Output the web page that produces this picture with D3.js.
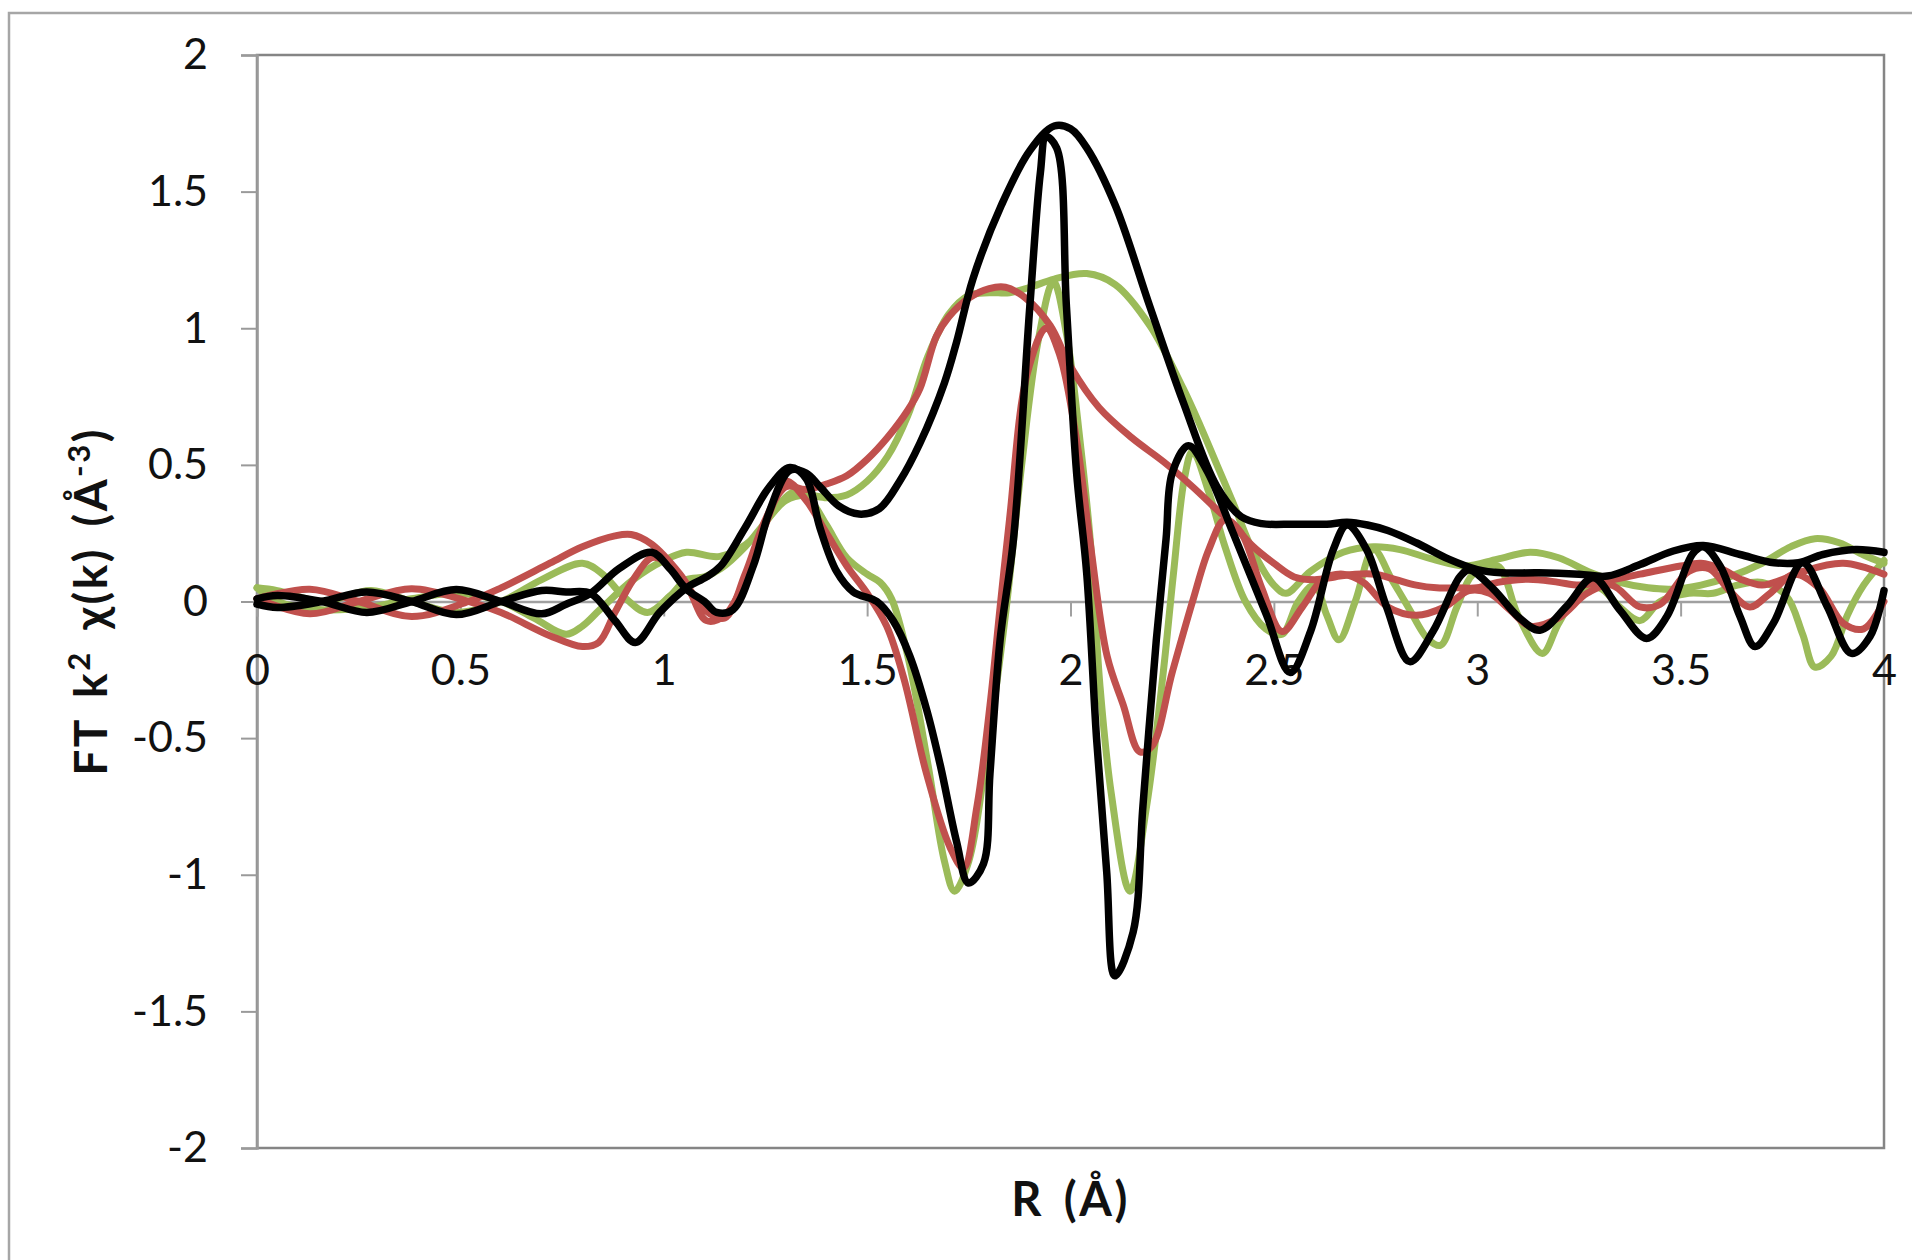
<!DOCTYPE html>
<html>
<head>
<meta charset="utf-8">
<script src="https://cdnjs.cloudflare.com/ajax/libs/d3/7.8.5/d3.min.js"></script>
<style>
  body { margin: 0; background: #fff; }
  text { font-family: Lato, "Open Sans", sans-serif; }
</style>
</head>
<body>
<div id="chart"></div>
<script>
// tick values
var xTicks = [0, 0.5, 1, 1.5, 2, 2.5, 3, 3.5, 4];
var yTicks = [-2, -1.5, -1, -0.5, 0, 0.5, 1, 1.5, 2];

// series, [R (Å), FT value]
var greenMag = [[0,0.05],[0.05,0.04],[0.16,0.0],[0.28,0.04],[0.38,0.0],[0.49,-0.04],[0.6,0.0],[0.7,0.08],[0.8,0.14],[0.85,0.1],[0.9,0.02],[0.96,-0.04],[1.015,0.02],[1.056,0.08],[1.1,0.09],[1.14,0.12],[1.2,0.2],[1.25,0.29],[1.3,0.37],[1.35,0.39],[1.4,0.38],[1.45,0.39],[1.5,0.44],[1.55,0.53],[1.6,0.68],[1.65,0.9],[1.7,1.05],[1.75,1.12],[1.8,1.13],[1.85,1.13],[1.9,1.15],[1.96,1.18],[2.04,1.2],[2.11,1.16],[2.195,1.01],[2.277,0.78],[2.32,0.64],[2.36,0.5],[2.4,0.36],[2.45,0.18],[2.5,0.06],[2.53,0.03],[2.59,0.11],[2.67,0.18],[2.745,0.2],[2.81,0.19],[2.89,0.155],[2.97,0.13],[3.05,0.155],[3.13,0.18],[3.2,0.16],[3.28,0.105],[3.35,0.07],[3.42,0.05],[3.48,0.045],[3.55,0.06],[3.62,0.09],[3.7,0.14],[3.77,0.2],[3.83,0.23],[3.89,0.215],[3.95,0.17],[4.0,0.14]];
var greenRe = [[0,0.05],[0.05,0.0],[0.16,-0.03],[0.28,-0.02],[0.38,0.01],[0.49,0.03],[0.6,0.0],[0.68,-0.06],[0.76,-0.12],[0.8,-0.09],[0.843,-0.03],[0.925,0.08],[1.0,0.15],[1.056,0.18],[1.138,0.165],[1.22,0.23],[1.27,0.33],[1.32,0.4],[1.36,0.37],[1.4,0.28],[1.45,0.16],[1.5,0.1],[1.532,0.07],[1.56,0.01],[1.6,-0.2],[1.65,-0.6],[1.69,-0.95],[1.715,-1.06],[1.75,-0.95],[1.79,-0.6],[1.84,-0.05],[1.88,0.5],[1.92,0.95],[1.958,1.17],[1.99,0.98],[2.024,0.58],[2.05,0.2],[2.072,-0.3],[2.1,-0.7],[2.146,-1.06],[2.187,-0.75],[2.228,-0.26],[2.253,0.1],[2.28,0.45],[2.3,0.55],[2.34,0.4],[2.38,0.2],[2.43,0.0],[2.48,-0.1],[2.52,-0.12],[2.56,0.0],[2.6,0.06],[2.63,-0.05],[2.66,-0.14],[2.7,0.0],[2.745,0.19],[2.79,0.08],[2.83,-0.02],[2.88,-0.14],[2.91,-0.16],[2.95,-0.02],[2.99,0.1],[3.05,0.13],[3.1,-0.05],[3.16,-0.19],[3.2,-0.08],[3.25,0.03],[3.3,0.05],[3.35,-0.02],[3.4,-0.07],[3.45,0.0],[3.52,0.03],[3.58,0.03],[3.64,0.06],[3.7,0.07],[3.76,0.02],[3.8,-0.12],[3.83,-0.24],[3.87,-0.2],[3.91,-0.05],[3.95,0.06],[4.0,0.15]];
var redMag = [[0,0.01],[0.13,0.045],[0.25,0.0],[0.38,-0.055],[0.52,0.0],[0.6,0.05],[0.72,0.14],[0.8,0.2],[0.88,0.24],[0.92,0.245],[0.97,0.21],[1.04,0.1],[1.1,-0.03],[1.15,-0.06],[1.2,0.1],[1.25,0.3],[1.3,0.42],[1.35,0.41],[1.4,0.43],[1.45,0.46],[1.5,0.52],[1.55,0.6],[1.6,0.7],[1.63,0.78],[1.67,0.97],[1.7,1.04],[1.75,1.11],[1.8,1.145],[1.84,1.15],[1.89,1.11],[1.95,1.01],[2.0,0.86],[2.07,0.71],[2.15,0.6],[2.23,0.51],[2.3,0.42],[2.35,0.35],[2.4,0.28],[2.45,0.2],[2.5,0.14],[2.55,0.09],[2.6,0.08],[2.65,0.09],[2.7,0.1],[2.75,0.1],[2.8,0.08],[2.85,0.06],[2.9,0.05],[2.95,0.05],[3.0,0.05],[3.05,0.07],[3.1,0.08],[3.15,0.08],[3.2,0.07],[3.25,0.06],[3.3,0.07],[3.4,0.1],[3.5,0.13],[3.55,0.14],[3.6,0.12],[3.65,0.08],[3.7,0.06],[3.75,0.08],[3.8,0.11],[3.9,0.14],[4.0,0.1]];
var redRe = [[0,0.01],[0.13,-0.045],[0.25,0.0],[0.38,0.047],[0.52,0.0],[0.6,-0.04],[0.72,-0.125],[0.8,-0.165],[0.84,-0.15],[0.88,-0.04],[0.925,0.08],[0.97,0.16],[1.0,0.15],[1.056,0.06],[1.105,-0.07],[1.15,-0.05],[1.2,0.08],[1.25,0.28],[1.3,0.44],[1.35,0.37],[1.4,0.25],[1.45,0.13],[1.5,0.03],[1.548,-0.09],[1.59,-0.28],[1.646,-0.63],[1.704,-0.9],[1.737,-0.975],[1.77,-0.75],[1.802,-0.38],[1.827,-0.02],[1.85,0.3],[1.893,0.83],[1.94,1.0],[1.974,0.9],[2.015,0.59],[2.048,0.22],[2.09,-0.2],[2.13,-0.38],[2.17,-0.55],[2.2,-0.53],[2.25,-0.26],[2.3,0.0],[2.34,0.19],[2.38,0.3],[2.42,0.25],[2.47,0.05],[2.52,-0.11],[2.57,-0.02],[2.62,0.08],[2.67,0.1],[2.72,0.07],[2.78,-0.02],[2.85,-0.05],[2.92,-0.02],[2.98,0.04],[3.03,0.03],[3.08,-0.03],[3.13,-0.09],[3.2,-0.06],[3.27,0.03],[3.33,0.06],[3.4,-0.02],[3.45,-0.01],[3.52,0.11],[3.57,0.12],[3.62,0.04],[3.67,-0.02],[3.72,0.03],[3.78,0.1],[3.84,0.05],[3.9,-0.08],[3.95,-0.1],[4.0,0.0]];
var blackMag = [[0,0.01],[0.05,0.022],[0.16,0.0],[0.27,-0.04],[0.38,0.0],[0.49,0.044],[0.6,0.0],[0.7,-0.045],[0.76,-0.01],[0.82,0.03],[0.89,0.12],[0.97,0.18],[1.015,0.12],[1.056,0.045],[1.1,0.0],[1.13,-0.04],[1.17,-0.03],[1.22,0.13],[1.26,0.33],[1.31,0.48],[1.35,0.47],[1.384,0.42],[1.43,0.35],[1.48,0.32],[1.53,0.34],[1.58,0.44],[1.63,0.58],[1.69,0.8],[1.72,0.95],[1.76,1.18],[1.83,1.45],[1.9,1.65],[1.96,1.74],[2.0,1.73],[2.04,1.66],[2.11,1.45],[2.195,1.08],[2.277,0.73],[2.36,0.42],[2.42,0.31],[2.47,0.285],[2.55,0.283],[2.63,0.283],[2.68,0.29],[2.73,0.28],[2.78,0.26],[2.85,0.215],[2.93,0.155],[3.0,0.117],[3.06,0.105],[3.15,0.105],[3.25,0.1],[3.32,0.093],[3.4,0.135],[3.48,0.184],[3.556,0.205],[3.646,0.172],[3.73,0.142],[3.79,0.142],[3.85,0.172],[3.93,0.19],[4.0,0.18]];
var blackRe = [[0,-0.01],[0.05,-0.022],[0.16,0.0],[0.27,0.035],[0.38,0.0],[0.49,-0.048],[0.6,0.0],[0.7,0.04],[0.76,0.035],[0.82,0.03],[0.88,-0.07],[0.93,-0.15],[0.99,-0.04],[1.056,0.05],[1.105,0.09],[1.14,0.13],[1.2,0.27],[1.26,0.42],[1.31,0.49],[1.35,0.45],[1.384,0.27],[1.425,0.11],[1.466,0.035],[1.524,0.0],[1.564,-0.07],[1.605,-0.2],[1.647,-0.4],[1.68,-0.6],[1.72,-0.88],[1.749,-1.03],[1.786,-0.96],[1.802,-0.63],[1.827,-0.14],[1.86,0.23],[1.9,1.08],[1.926,1.57],[1.94,1.7],[1.966,1.66],[1.99,1.08],[2.015,0.47],[2.04,0.1],[2.064,-0.5],[2.089,-0.99],[2.109,-1.37],[2.154,-1.21],[2.178,-0.75],[2.211,-0.14],[2.235,0.23],[2.25,0.47],[2.29,0.57],[2.335,0.48],[2.4,0.25],[2.482,-0.05],[2.54,-0.26],[2.59,-0.11],[2.646,0.19],[2.68,0.28],[2.728,0.19],[2.777,-0.02],[2.834,-0.22],[2.891,-0.11],[2.957,0.09],[2.98,0.115],[3.04,0.045],[3.1,-0.055],[3.154,-0.105],[3.22,-0.017],[3.285,0.087],[3.35,-0.03],[3.416,-0.135],[3.466,-0.055],[3.53,0.175],[3.556,0.2],[3.597,0.13],[3.646,-0.055],[3.683,-0.165],[3.728,-0.08],[3.8,0.142],[3.86,-0.017],[3.92,-0.19],[3.966,-0.127],[4.0,0.04]];

var width = 1912,
    height = 1260;

var svg = d3.select('#chart').append('svg')
    .attr('width', width)
    .attr('height', height);

// outer chart frame (right and bottom edges fall off the picture)
svg.append('rect')
    .attr('x', 9).attr('y', 13)
    .attr('width', 1940).attr('height', 1290)
    .attr('fill', '#fff')
    .attr('stroke', '#a6a6a6')
    .attr('stroke-width', 2.5);

var x = d3.scaleLinear().domain([0, 4]).range([257, 1884]);
var y = d3.scaleLinear().domain([-2, 2]).range([1148, 55]);

// plot area border
svg.append('rect')
    .attr('x', x(0)).attr('y', y(2))
    .attr('width', x(4) - x(0)).attr('height', y(-2) - y(2))
    .attr('fill', 'none')
    .attr('stroke', '#858585')
    .attr('stroke-width', 2.5);

// y axis
var yAxis = svg.append('g')
    .attr('transform', 'translate(' + x(0) + ',0)')
    .call(d3.axisLeft(y).tickValues(yTicks).tickSize(16).tickPadding(33)
        .tickFormat(function (d) { return String(d); }));
yAxis.select('.domain').attr('stroke', '#9a9a9a').attr('stroke-width', 2.5);
yAxis.selectAll('.tick line').attr('stroke', '#9a9a9a').attr('stroke-width', 2);
yAxis.selectAll('.tick text')
    .style('font-size', '43px')
    .attr('fill', '#111');

// x axis crossing at zero
var xAxis = svg.append('g')
    .attr('transform', 'translate(0,' + y(0) + ')')
    .call(d3.axisBottom(x).tickValues(xTicks).tickSize(15).tickPadding(38)
        .tickFormat(function (d) { return String(d); }));
xAxis.select('.domain').attr('stroke', '#a0a0a0').attr('stroke-width', 2.5);
xAxis.selectAll('.tick line').attr('stroke', '#a0a0a0').attr('stroke-width', 2);
xAxis.selectAll('.tick text')
    .style('font-size', '43px')
    .attr('fill', '#111');

// the curves
var line = d3.line()
    .x(function (d) { return x(d[0]); })
    .y(function (d) { return y(d[1]); })
    .curve(d3.curveCatmullRom.alpha(0.5));

var series = [
    { data: greenMag, color: '#9bbb59', w: 7 },
    { data: greenRe, color: '#9bbb59', w: 7 },
    { data: redMag, color: '#c0504d', w: 7 },
    { data: redRe, color: '#c0504d', w: 7 },
    { data: blackMag, color: '#000000', w: 7.5 },
    { data: blackRe, color: '#000000', w: 7.5 }
];

svg.selectAll('path.series')
    .data(series)
    .enter()
    .append('path')
    .attr('class', 'series')
    .attr('d', function (d) { return line(d.data); })
    .attr('fill', 'none')
    .attr('stroke', function (d) { return d.color; })
    .attr('stroke-width', function (d) { return d.w; })
    .attr('stroke-linejoin', 'round')
    .attr('stroke-linecap', 'round');

// axis titles
svg.append('text')
    .attr('x', (x(0) + x(4)) / 2)
    .attr('y', 1216)
    .attr('text-anchor', 'middle')
    .style('font-size', '47px')
    .style('font-weight', 'bold')
    .style('letter-spacing', '2.5px')
    .style('word-spacing', '6px')
    .attr('fill', '#111')
    .text('R (Å)');

var yTitle = svg.append('text')
    .attr('transform', 'translate(107,' + y(0) + ') rotate(-90)')
    .attr('text-anchor', 'middle')
    .style('font-size', '46px')
    .style('font-weight', 'bold')
    .style('letter-spacing', '2.5px')
    .style('word-spacing', '7px')
    .attr('fill', '#111');
yTitle.append('tspan').text('FT k');
yTitle.append('tspan').attr('dy', -17).style('font-size', '31px').text('2');
yTitle.append('tspan').attr('dy', 17).text(' χ(k) (Å');
yTitle.append('tspan').attr('dy', -17).style('font-size', '31px').text('-3');
yTitle.append('tspan').attr('dy', 17).text(')');
</script>
</body>
</html>
